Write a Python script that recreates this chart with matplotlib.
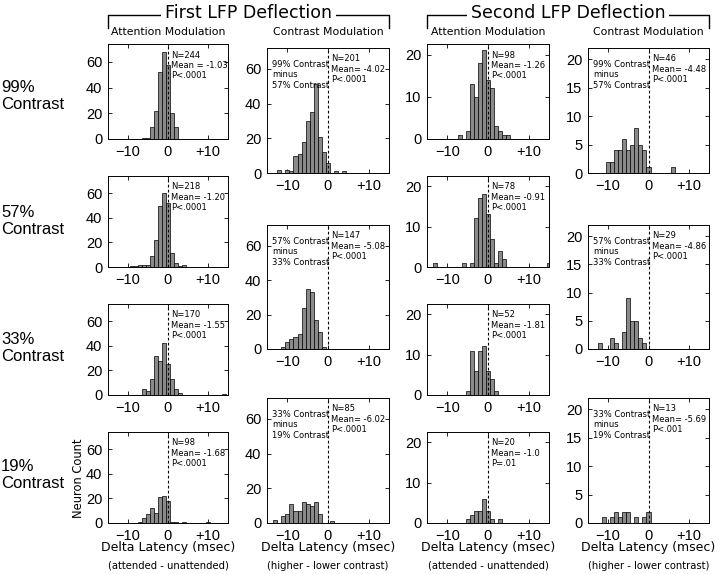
import matplotlib
matplotlib.use('Agg')
import matplotlib.pyplot as plt
from matplotlib.lines import Line2D

W, H = 720, 574
fig = plt.figure(figsize=(7.2, 5.74), dpi=100)

# ---------------- data ----------------
x_ticks = [-10, 0, 10]
x_tick_labels = ['\u221210', '0', '+10']
row_labels = ['99%\nContrast', '57%\nContrast', '33%\nContrast', '19%\nContrast']
headers = ['First LFP Deflection', 'Second LFP Deflection']
col_titles = ['Attention Modulation', 'Contrast Modulation',
              'Attention Modulation', 'Contrast Modulation']
xlabel_main = 'Delta Latency (msec)'
xlabel_subs = ['(attended - unattended)', '(higher - lower contrast)',
               '(attended - unattended)', '(higher - lower contrast)']
contrast_pairs = ['99% Contrast\nminus\n57% Contrast',
                  '57% Contrast\nminus\n33% Contrast',
                  '33% Contrast\nminus\n19% Contrast']

# First deflection, attention modulation (bin centers, counts)
fa99_x = [-6, -5, -4, -3, -2, -1, 0, 1, 2]
fa99_n = [1, 1, 9, 22, 52, 68, 58, 20, 9]
fa57_x = [-9, -8, -7, -6, -5, -4, -3, -2, -1, 0, 1, 2, 3, 4]
fa57_n = [1, 1, 2, 2, 2, 9, 22, 50, 60, 52, 11, 3, 1, 2]
fa33_x = [-6, -5, -4, -3, -2, -1, 0, 1, 2, 3, 14]
fa33_n = [5, 3, 13, 32, 28, 42, 25, 13, 5, 2, 1]
fa19_x = [-7, -6, -5, -4, -3, -2, -1, 0, 1, 2, 4, 10]
fa19_n = [1, 4, 7, 12, 8, 21, 22, 18, 1, 1, 1, 1]
fa_stats = ['N=244\nMean = -1.03\nP<.0001', 'N=218\nMean= -1.20\nP<.0001',
            'N=170\nMean= -1.55\nP<.0001', 'N=98\nMean= -1.68\nP<.0001']

# First deflection, contrast modulation
fc99_x = [-12, -10, -9, -8, -7, -6, -5, -4, -3, -2, -1, 0, 2, 4]
fc99_n = [2, 2, 1, 10, 11, 18, 30, 35, 51, 21, 12, 6, 1, 1]
fc57_x = [-11, -10, -9, -8, -7, -6, -5, -4, -3, -2, -1]
fc57_n = [1, 4, 6, 7, 9, 24, 35, 33, 17, 10, 1]
fc33_x = [-13, -11, -10, -9, -8, -7, -6, -5, -4, -3, -2, 1]
fc33_n = [2, 4, 5, 11, 7, 7, 12, 11, 10, 12, 5, 1]
fc_stats = ['N=201\nMean= -4.02\nP<.0001', 'N=147\nMean= -5.08\nP<.0001',
            'N=85\nMean= -6.02\nP<.0001']

# Second deflection, attention modulation
sa99_x = [-7, -5, -4, -3, -2, -1, 0, 1, 2, 3, 4, 5]
sa99_n = [1, 2, 13, 10, 18, 21, 14, 12, 3, 2, 1, 1]
sa57_x = [-13, -6, -4, -3, -2, -1, 0, 1, 2, 3, 4, 15]
sa57_n = [1, 1, 1, 12, 17, 18, 13, 7, 1, 4, 2, 1]
sa33_x = [-5, -4, -3, -2, -1, 0, 1, 2]
sa33_n = [1, 11, 6, 11, 12, 6, 4, 1]
sa19_x = [-5, -4, -3, -2, -1, 0, 1, 3]
sa19_n = [1, 2, 3, 3, 6, 3, 1, 1]
sa_stats = ['N=98\nMean= -1.26\nP<.0001', 'N=78\nMean= -0.91\nP<.0001',
            'N=52\nMean= -1.81\nP<.0001', 'N=20\nMean= -1.0\nP=.01']

# Second deflection, contrast modulation
sc99_x = [-10, -9, -8, -7, -6, -5, -4, -3, -2, -1, 0, 6]
sc99_n = [2, 2, 4, 4, 6, 4, 5, 8, 5, 4, 1, 1]
sc57_x = [-12, -9, -8, -6, -5, -4, -3, -2, -1]
sc57_n = [1, 2, 1, 3, 9, 5, 5, 2, 1]
sc33_x = [-11, -9, -8, -7, -6, -5, -3, -1, 0]
sc33_n = [1, 1, 2, 1, 2, 2, 1, 1, 2]
sc_stats = ['N=46\nMean= -4.48\nP<.0001', 'N=29\nMean= -4.86\nP<.0001',
            'N=13\nMean= -5.69\nP<.001']

# ---------------- layout ----------------
col_x = [(108, 228), (267, 389), (427, 549), (588, 709)]
att_rows = [(44, 139), (176, 267), (304, 395), (432, 523)]
con_rows = [(48, 173), (225, 349), (398, 523)]

TICKFONT = 'Liberation Sans'
TEXTFONT = 'DejaVu Sans'
BAR_FC = '#8a8a8a'


def ax_at(x0, y0, x1, y1):
    return fig.add_axes([x0 / W, 1 - y1 / H, (x1 - x0) / W, (y1 - y0) / H])


def panel(box, xs, ns, ylim, yticks, stats, pair=None, stat_y=0.93):
    ax = ax_at(box[0], box[1], box[2], box[3])
    ax.bar(xs, ns, width=1.0, color=BAR_FC, edgecolor='black', linewidth=0.5,
           zorder=2)
    ax.set_xlim(-15, 15)
    ax.set_ylim(0, ylim)
    ax.axvline(0, color='black', lw=0.8, ls=(0, (2.5, 2)), zorder=3)
    ax.set_xticks(x_ticks)
    ax.set_xticklabels(x_tick_labels)
    ax.set_yticks(yticks)
    ax.tick_params(direction='in', length=3, width=0.6, top=True, right=True,
                   labelsize=10.5, pad=4)
    for lab in ax.get_xticklabels() + ax.get_yticklabels():
        lab.set_fontfamily(TICKFONT)
    for sp in ax.spines.values():
        sp.set_linewidth(0.7)
    ax.text(0.8, stat_y * ylim, stats, fontsize=6.0, family=TEXTFONT,
            va='top', ha='left', linespacing=1.2, zorder=4)
    if pair is not None:
        ax.text(-13.8, 0.905 * ylim, pair, fontsize=6.0, family=TEXTFONT,
                va='top', ha='left', linespacing=1.2, zorder=4)
    return ax


fa = [(fa99_x, fa99_n), (fa57_x, fa57_n), (fa33_x, fa33_n), (fa19_x, fa19_n)]
fc = [(fc99_x, fc99_n), (fc57_x, fc57_n), (fc33_x, fc33_n)]
sa = [(sa99_x, sa99_n), (sa57_x, sa57_n), (sa33_x, sa33_n), (sa19_x, sa19_n)]
sc = [(sc99_x, sc99_n), (sc57_x, sc57_n), (sc33_x, sc33_n)]

for i, (xs, ns) in enumerate(fa):
    r = att_rows[i]
    panel((col_x[0][0], r[0], col_x[0][1], r[1]), xs, ns, 74, [0, 20, 40, 60],
          fa_stats[i])
for i, (xs, ns) in enumerate(sa):
    r = att_rows[i]
    panel((col_x[2][0], r[0], col_x[2][1], r[1]), xs, ns, 22.5, [0, 10, 20],
          sa_stats[i])
for i, (xs, ns) in enumerate(fc):
    r = con_rows[i]
    panel((col_x[1][0], r[0], col_x[1][1], r[1]), xs, ns, 72, [0, 20, 40, 60],
          fc_stats[i], pair=contrast_pairs[i], stat_y=0.95)
for i, (xs, ns) in enumerate(sc):
    r = con_rows[i]
    panel((col_x[3][0], r[0], col_x[3][1], r[1]), xs, ns, 22,
          [0, 5, 10, 15, 20], sc_stats[i], pair=contrast_pairs[i], stat_y=0.95)

# ---------------- figure text ----------------
def fx(px):
    return px / W


def fy(py):
    return 1 - py / H


# header brackets
for k, (a, b) in enumerate([(col_x[0][0], col_x[1][1]), (col_x[2][0], col_x[3][1])]):
    fig.add_artist(Line2D([fx(a), fx(a), fx(b), fx(b)],
                          [fy(28), fy(15), fy(15), fy(28)],
                          color='black', lw=1.0))
    fig.text(fx((a + b) / 2), fy(13), headers[k], ha='center', va='center',
             fontsize=12.5, family=TEXTFONT,
             bbox=dict(facecolor='white', edgecolor='none', pad=3))

for j in range(4):
    cx = (col_x[j][0] + col_x[j][1]) / 2
    fig.text(fx(cx), fy(32), col_titles[j], ha='center', va='center',
             fontsize=7.8, family=TEXTFONT)
    fig.text(fx(cx), fy(548), xlabel_main, ha='center', va='center',
             fontsize=9.0, family=TEXTFONT)
    fig.text(fx(cx), fy(566), xlabel_subs[j], ha='center', va='center',
             fontsize=7.2, family=TEXTFONT)

row_centers = [96, 221, 348, 475]
for i in range(4):
    fig.text(fx(1), fy(row_centers[i]), row_labels[i], ha='left', va='center',
             fontsize=12, family='Liberation Sans', linespacing=1.1)

fig.text(fx(79), fy(478), 'Neuron Count', rotation=90, ha='center',
         va='center', fontsize=8.3, family=TEXTFONT)

fig.savefig('out.png', dpi=100)
